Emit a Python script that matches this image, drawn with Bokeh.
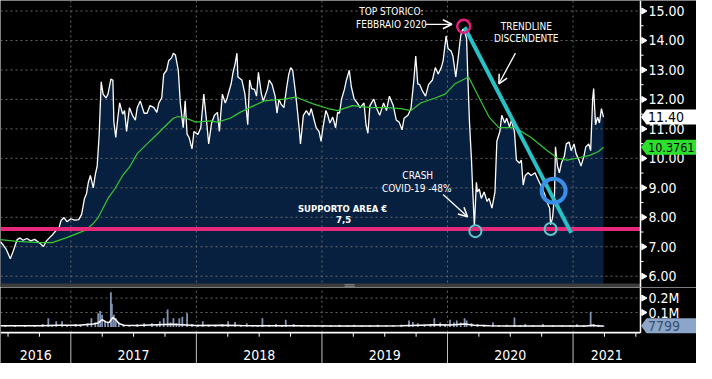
from bokeh.plotting import figure
from bokeh.layouts import column
from bokeh.models import Range1d, Arrow, OpenHead
from bokeh.core.properties import value
from bokeh.embed import file_html
from bokeh.resources import INLINE

# ---------------- data ----------------
price_t = [2016.440, 2016.463, 2016.487, 2016.502, 2016.518, 2016.541, 2016.572, 2016.596, 2016.619, 2016.650,
           2016.681, 2016.712, 2016.736, 2016.759, 2016.782, 2016.806, 2016.829, 2016.852, 2016.884, 2016.907,
           2016.922, 2016.946, 2016.969, 2017.000, 2017.031, 2017.063, 2017.086, 2017.109, 2017.125, 2017.140,
           2017.156, 2017.179, 2017.195, 2017.210, 2017.226, 2017.242, 2017.257, 2017.280, 2017.296, 2017.319,
           2017.335, 2017.343, 2017.358, 2017.374, 2017.389, 2017.413, 2017.428, 2017.444, 2017.467, 2017.491,
           2017.514, 2017.529, 2017.553, 2017.584, 2017.607, 2017.631, 2017.662, 2017.685, 2017.701, 2017.724,
           2017.740, 2017.763, 2017.779, 2017.802, 2017.817, 2017.833, 2017.856, 2017.872, 2017.895, 2017.911,
           2017.926, 2017.942, 2017.965, 2017.981, 2018.012, 2018.035, 2018.059, 2018.082, 2018.098, 2018.121,
           2018.144, 2018.168, 2018.183, 2018.207, 2018.230, 2018.245, 2018.277, 2018.292, 2018.308, 2018.323,
           2018.331, 2018.362, 2018.386, 2018.409, 2018.424, 2018.440, 2018.463, 2018.479, 2018.494, 2018.518,
           2018.533, 2018.565, 2018.580, 2018.603, 2018.627, 2018.642, 2018.658, 2018.673, 2018.697, 2018.720,
           2018.736, 2018.751, 2018.767, 2018.790, 2018.806, 2018.821, 2018.829, 2018.852, 2018.876, 2018.899,
           2018.915, 2018.938, 2018.954, 2018.977, 2018.993, 2019.008, 2019.031, 2019.047, 2019.063, 2019.086,
           2019.109, 2019.125, 2019.140, 2019.156, 2019.179, 2019.195, 2019.218, 2019.234, 2019.257, 2019.281,
           2019.304, 2019.335, 2019.351, 2019.366, 2019.382, 2019.413, 2019.436, 2019.460, 2019.491, 2019.514,
           2019.537, 2019.568, 2019.592, 2019.615, 2019.638, 2019.654, 2019.685, 2019.709, 2019.732, 2019.747,
           2019.763, 2019.779, 2019.802, 2019.825, 2019.849, 2019.880, 2019.903, 2019.926, 2019.950, 2019.965,
           2019.989, 2020.004, 2020.028, 2020.043, 2020.066, 2020.082, 2020.105, 2020.121, 2020.136, 2020.152,
           2020.160, 2020.175, 2020.191, 2020.199, 2020.214, 2020.230, 2020.238, 2020.253, 2020.269, 2020.292,
           2020.315, 2020.331, 2020.354, 2020.378, 2020.393, 2020.417, 2020.432, 2020.456, 2020.471, 2020.494,
           2020.510, 2020.533, 2020.549, 2020.572, 2020.588, 2020.603, 2020.619, 2020.642, 2020.666, 2020.697,
           2020.720, 2020.743, 2020.775, 2020.790, 2020.814, 2020.821, 2020.837, 2020.852, 2020.860, 2020.876,
           2020.891, 2020.907, 2020.930, 2020.946, 2020.969, 2020.985, 2021.008, 2021.024, 2021.047, 2021.063,
           2021.086, 2021.101, 2021.125, 2021.140, 2021.156, 2021.164, 2021.179, 2021.195, 2021.210, 2021.226,
           2021.242]
price_v = [7.17, 7.05, 6.90, 6.75, 6.59, 6.85, 7.24, 7.30, 7.22, 7.28,
           7.20, 7.25, 7.18, 7.10, 7.01, 7.20, 7.30, 7.40, 7.56, 7.66,
           7.89, 7.99, 7.85, 7.95, 7.90, 7.92, 8.10, 8.64, 8.80, 9.19,
           9.42, 9.00, 9.45, 9.74, 10.81, 12.60, 12.18, 12.05, 12.18, 12.69,
           12.65, 11.23, 10.71, 11.36, 11.88, 11.50, 11.62, 10.91, 11.72, 11.46,
           11.30, 11.72, 11.95, 11.53, 11.53, 11.79, 11.72, 11.56, 11.88, 12.05,
           12.86, 12.99, 13.31, 13.41, 13.57, 13.51, 12.99, 11.88, 11.04, 11.95,
           10.81, 10.71, 10.32, 10.91, 10.81, 11.04, 12.18, 11.23, 10.49, 11.20,
           11.46, 11.56, 10.91, 12.18, 11.88, 12.05, 12.53, 12.92, 13.20, 13.57,
           12.76, 12.66, 12.20, 11.14, 12.66, 12.37, 12.34, 12.11, 12.92, 12.18,
           11.95, 12.34, 12.66, 12.50, 12.11, 11.53, 12.01, 11.85, 11.72, 12.43,
           12.86, 13.08, 12.99, 12.21, 11.56, 10.91, 10.49, 11.46, 11.62, 11.46,
           11.69, 11.30, 11.04, 10.91, 10.58, 11.04, 11.62, 11.46, 11.20, 11.40,
           11.04, 11.56, 11.53, 12.01, 12.34, 12.66, 12.99, 12.43, 12.01, 11.88,
           11.72, 11.88, 11.14, 10.85, 11.79, 12.01, 11.69, 11.46, 11.88, 11.62,
           12.11, 11.79, 11.30, 11.23, 10.97, 11.36, 11.46, 11.69, 12.66, 13.47,
           12.53, 12.50, 12.27, 12.11, 12.50, 12.66, 13.08, 12.86, 13.08, 13.31,
           14.16, 13.73, 13.64, 13.47, 12.76, 13.31, 14.16, 14.38, 14.32, 14.06,
           12.99, 11.23, 9.94, 9.09, 7.70, 9.19, 8.86, 8.96, 8.64, 8.86,
           8.54, 8.64, 8.31, 8.86, 10.58, 10.91, 11.46, 11.20, 11.36, 11.07,
           11.30, 10.91, 9.94, 9.84, 9.94, 9.09, 9.42, 9.51, 9.42, 9.51,
           9.29, 9.09, 8.77, 8.54, 8.31, 7.75, 7.99, 8.77, 10.39, 9.74,
           9.51, 9.84, 10.06, 10.49, 10.55, 10.26, 10.49, 10.16, 9.94, 9.74,
           10.06, 10.39, 10.49, 10.26, 12.01, 12.37, 11.14, 11.40, 11.20, 11.69,
           11.40]

ma_t = [2016.440, 2016.572, 2016.751, 2016.852, 2016.961, 2017.063, 2017.117, 2017.179, 2017.218, 2017.296,
        2017.350, 2017.413, 2017.467, 2017.529, 2017.607, 2017.685, 2017.763, 2017.817, 2017.856, 2017.919,
        2017.996, 2018.113, 2018.168, 2018.269, 2018.347, 2018.424, 2018.541, 2018.697, 2018.790, 2018.930,
        2019.047, 2019.125, 2019.242, 2019.397, 2019.514, 2019.631, 2019.709, 2019.786, 2019.903, 2019.981,
        2020.059, 2020.168, 2020.253, 2020.331, 2020.409, 2020.541, 2020.666, 2020.798, 2020.876, 2020.954,
        2021.055, 2021.133, 2021.203, 2021.242]
ma_v = [7.24, 7.18, 7.14, 7.14, 7.30, 7.47, 7.56, 7.79, 7.99, 8.64,
        8.96, 9.42, 9.70, 10.16, 10.49, 10.81, 11.14, 11.36, 11.42, 11.36,
        11.23, 11.27, 11.23, 11.36, 11.56, 11.72, 11.95, 12.01, 12.08, 11.85,
        11.69, 11.62, 11.79, 11.72, 11.72, 11.69, 11.62, 11.88, 12.05, 12.18,
        12.53, 12.76, 12.05, 11.40, 11.04, 11.04, 10.71, 10.25, 10.00, 9.94,
        10.03, 10.10, 10.23, 10.3761]

vol_t = [2016.479, 2016.557, 2016.635, 2016.712, 2016.775, 2016.821, 2016.852, 2016.884, 2016.930, 2016.969,
         2017.039, 2017.078, 2017.133, 2017.164, 2017.195, 2017.218, 2017.234, 2017.249, 2017.273, 2017.296,
         2017.319, 2017.327, 2017.343, 2017.358, 2017.382, 2017.421, 2017.467, 2017.529, 2017.584, 2017.646,
         2017.685, 2017.709, 2017.740, 2017.771, 2017.794, 2017.817, 2017.841, 2017.864, 2017.888, 2017.926,
         2017.965, 2018.012, 2018.051, 2018.098, 2018.152, 2018.207, 2018.253, 2018.308, 2018.354, 2018.401,
         2018.448, 2018.487, 2018.526, 2018.580, 2018.635, 2018.681, 2018.712, 2018.775, 2018.837, 2018.891,
         2018.946, 2019.008, 2019.070, 2019.140, 2019.203, 2019.257, 2019.319, 2019.382, 2019.444, 2019.514,
         2019.568, 2019.631, 2019.693, 2019.724, 2019.763, 2019.817, 2019.864, 2019.895, 2019.942, 2019.981,
         2020.020, 2020.051, 2020.074, 2020.105, 2020.136, 2020.152, 2020.191, 2020.238, 2020.292, 2020.362,
         2020.409, 2020.471, 2020.533, 2020.580, 2020.619, 2020.681, 2020.759, 2020.837, 2020.915, 2020.977,
         2021.031, 2021.086, 2021.140, 2021.164, 2021.203, 2021.242]
vol_v = [8, 6, 9, 7, 20, 60, 12, 40, 40, 10,
         20, 12, 25, 60, 30, 95, 110, 85, 40, 30,
         240, 160, 85, 60, 30, 15, 12, 18, 25, 25,
         15, 40, 60, 120, 30, 60, 25, 60, 70, 95,
         20, 15, 40, 15, 12, 20, 40, 35, 15, 25,
         12, 10, 60, 15, 20, 12, 50, 20, 10, 12,
         8, 10, 12, 15, 10, 15, 10, 12, 15, 10,
         12, 15, 45, 35, 25, 15, 20, 60, 30, 20,
         50, 30, 45, 30, 60, 45, 25, 20, 15, 30,
         12, 15, 65, 12, 20, 10, 20, 12, 10, 12,
         18, 12, 105, 20, 15, 8]          # thousands

volma_t = [2016.440, 2016.751, 2016.907, 2017.063, 2017.179, 2017.218, 2017.249, 2017.280, 2017.304, 2017.335,
           2017.358, 2017.382, 2017.421, 2017.529, 2017.685, 2017.802, 2017.880, 2017.996, 2018.191, 2018.347,
           2018.541, 2018.775, 2019.086, 2019.397, 2019.631, 2019.786, 2019.903, 2020.020, 2020.136, 2020.214,
           2020.331, 2020.565, 2020.798, 2021.109, 2021.148, 2021.203, 2021.242]
volma_v = [8, 9, 12, 12, 20, 28, 50, 35, 30, 65,
           50, 25, 12, 10, 15, 18, 15, 10, 12, 10,
           8, 8, 6, 6, 8, 12, 15, 14, 20, 12,
           8, 7, 6, 6, 12, 7, 7]          # thousands

price_ticks = [6, 7, 8, 9, 10, 11, 12, 13, 14, 15]
year_bounds = [2017, 2018, 2019, 2020, 2021]
year_labels = ["2016", "2017", "2018", "2019", "2020", "2021"]
support_level = 7.6
trend_t = [2020.136, 2020.985]
trend_v = [14.45, 7.47]
last_price = 11.40
last_ma = 10.3761
last_vol = 7799
vol_ticks = [100000, 200000]
vol_tick_labels = ["0.1M", "0.2M"]

# ---------------- layout constants ----------------
FONT = "DejaVu Sans Condensed"
X0, X1 = 2016.44, 2021.537          # data start .. position of the value axis
W, RB = 696, 56
PXY = (W - RB) / (X1 - X0)          # px per year
XE = X1 + RB / PXY                  # right edge of the canvas
H_MAIN, H_VOL = 287, 76
YLO, YHI = 5.617, 15.357
PXP = H_MAIN / (YHI - YLO)
BAR = 4 / PXP
V_LO, V_HI = -253300, 273300
PXV = H_VOL / (V_HI - V_LO)
AX_Y = -40000

BG = "black"
NAVY = "#08203f"
GRID = "#666666"


def make(height, y0, y1):
    p = figure(width=W, height=height, x_range=Range1d(X0, XE), y_range=Range1d(y0, y1),
               output_backend="svg", toolbar_location=None, x_axis_location=None,
               y_axis_location=None, min_border_left=0, min_border_right=0,
               min_border_top=0, min_border_bottom=0)
    p.background_fill_color = BG
    p.border_fill_color = BG
    p.outline_line_color = None
    p.grid.visible = False
    return p


def value_axis(p, lo, hi, ticks, labels, minor):
    """right-hand value axis drawn at X1 with the library's scales"""
    p.line([X1, X1], [lo, hi], line_color="white", line_width=1.5)
    if minor:
        p.multi_line(xs=[[X1, X1 + 3 / PXY] for _ in minor], ys=[[m, m] for m in minor],
                     line_color="white", line_width=1)
    p.scatter(x=[X1 + 3 / PXY] * len(ticks), y=ticks, marker="triangle", size=6, angle=-90,
              angle_units="deg", fill_color="white", line_color="white")
    p.text(x=[X1 + 8 / PXY] * len(ticks), y=ticks, text=labels, text_font=value(FONT),
           text_font_size="14px", text_color="white", text_align="left", text_baseline="middle")


def tag(p, yv, txt, fill, tcolor, py, size="14px"):
    hh = 7.5 / py
    p.patch(x=[X1 + 0.5 / PXY, X1 + 6 / PXY, XE + 2 / PXY, XE + 2 / PXY, X1 + 6 / PXY],
            y=[yv, yv + hh, yv + hh, yv - hh, yv - hh], fill_color=fill, line_color=None)
    p.text(x=[X1 + 7.5 / PXY], y=[yv], text=[txt], text_font=value(FONT), text_font_size=size,
           text_color=tcolor, text_align="left", text_baseline="middle")


# ---------------- main price panel ----------------
main = make(H_MAIN, YLO, YHI)

main.varea(x=price_t, y1=[YLO] * len(price_t), y2=price_v, fill_color=NAVY)
main.multi_line(xs=[[X0, X1] for _ in price_ticks], ys=[[v, v] for v in price_ticks],
                line_color=GRID, line_dash="2 3", line_width=1)
main.multi_line(xs=[[b, b] for b in year_bounds], ys=[[YLO, YHI] for _ in year_bounds],
                line_color=GRID, line_dash="2 3", line_width=1)
main.line(price_t, price_v, line_color="white", line_width=1.3)
main.line(ma_t, ma_v, line_color="#35c935", line_width=1.2)
main.line([X0, X1], [support_level, support_level], line_color="#e6287a", line_width=4)
main.line(trend_t, trend_v, line_color="#27c1c6", line_width=4)

main.scatter([2020.129], [14.48], marker="circle", size=13, fill_color=None,
             line_color="#e0207a", line_width=2.5)
main.scatter([2020.845], [8.90], marker="circle", size=24, fill_color=None,
             line_color="#3a8ee6", line_width=4)
main.scatter([2020.222, 2020.821], [7.53, 7.60], marker="circle", size=12, fill_color=None,
             line_color="#5ec8c8", line_width=2)

# separator bar with its handle
main.quad(left=[X0], right=[X1], bottom=[YLO], top=[YLO + BAR], fill_color="#3b3b3b", line_color=None)
main.multi_line(xs=[[2019.18, 2019.26], [2019.18, 2019.26]],
                ys=[[YLO + 1.2 / PXP] * 2, [YLO + 2.8 / PXP] * 2], line_color="#8a8a8a", line_width=1)

main.text(x=[2019.553, 2019.553, 2020.627, 2020.627, 2019.763, 2019.755],
          y=[14.97, 14.55, 14.48, 14.06, 9.42, 8.99],
          text=["TOP STORICO:", "FEBBRAIO 2020", "TRENDLINE", "DISCENDENTE", "CRASH", "COVID-19 -48%"],
          text_font=value(FONT), text_font_size="10px", text_color="white",
          text_align="center", text_baseline="middle")
main.text(x=[2019.164, 2019.172], y=[8.28, 7.92], text=["SUPPORTO AREA €", "7,5"],
          text_font=value("DejaVu Sans"), text_font_style="bold", text_font_size="8.5px",
          text_color="white", text_align="center", text_baseline="middle")

for (xs, ys, xe, ye) in [(2019.825, 14.55, 2020.035, 14.55),
                         (2020.541, 13.57, 2020.409, 12.53),
                         (2019.965, 8.77, 2020.160, 8.02)]:
    main.add_layout(Arrow(end=OpenHead(size=9, line_color="white", line_width=1.5),
                          x_start=xs, y_start=ys, x_end=xe, y_end=ye,
                          line_color="white", line_width=1.3))

value_axis(main, YLO, YHI, price_ticks, [f"{v:.2f}" for v in price_ticks],
           [v + 0.5 for v in price_ticks[:-1]])
tag(main, last_ma, f"{last_ma:.4f}", "#2ee02e", "black", PXP, size="12.5px")
tag(main, last_price, f"{last_price:.2f}", "white", "black", PXP)

# ---------------- volume panel ----------------
vol = make(H_VOL, V_LO, V_HI)
vol.x_range = main.x_range

vol.multi_line(xs=[[X0, X1] for _ in vol_ticks], ys=[[v, v] for v in vol_ticks],
               line_color=GRID, line_dash="2 3", line_width=1)
vol.multi_line(xs=[[b, b] for b in year_bounds], ys=[[AX_Y, V_HI] for _ in year_bounds],
               line_color=GRID, line_dash="2 3", line_width=1)
vol.vbar(x=vol_t, top=[v * 1000 for v in vol_v], bottom=0, width=1.8 / PXY,
         fill_color="#8193b3", line_color=None)
vol.line(volma_t, [v * 1000 for v in volma_v], line_color="white", line_width=1.5)

# time axis
quarters = [y + q for y in range(2016, 2022) for q in (0.25, 0.5, 0.75) if X0 < y + q <= X1]
vol.multi_line(xs=[[q, q] for q in quarters], ys=[[AX_Y, AX_Y - 4 / PXV] for _ in quarters],
               line_color="white", line_width=1)
vol.multi_line(xs=[[b, b] for b in year_bounds], ys=[[AX_Y, V_LO] for _ in year_bounds],
               line_color="#bfbfbf", line_width=1)
vol.line([X0, X1], [AX_Y, AX_Y], line_color="white", line_width=1.8)
label_x = [(max(int(l), X0) + min(int(l) + 1, X1)) / 2 for l in year_labels]
vol.text(x=label_x, y=[AX_Y - 22 / PXV] * len(year_labels), text=year_labels,
         text_font=value(FONT), text_font_size="14px", text_color="white",
         text_align="center", text_baseline="middle")

value_axis(vol, AX_Y, V_HI, vol_ticks, vol_tick_labels, [])
tag(vol, last_vol, str(last_vol), "#8ca5c8", "#34506f", PXV)

layout = column(main, vol, spacing=0)
open("out.html", "w").write(file_html(layout, INLINE))
